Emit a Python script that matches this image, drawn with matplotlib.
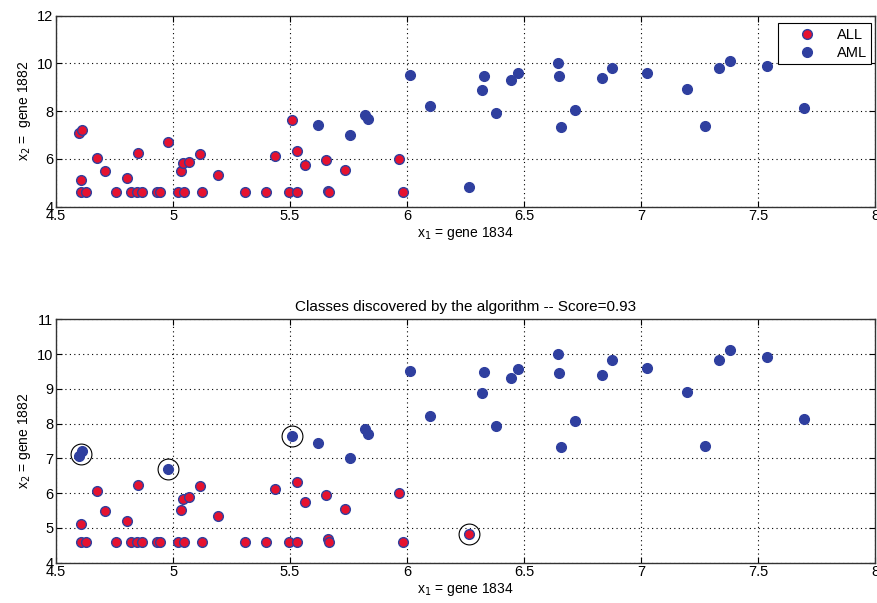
import matplotlib.pyplot as plt
import numpy as np

# gene expression (log scale)
gene1834 = [4.605, 4.626, 4.605, 4.598, 4.612, 4.677, 4.710, 4.757, 4.802, 4.821,
            4.852, 4.845, 4.866, 4.931, 4.945, 4.978, 5.019, 5.045, 5.035, 5.042,
            5.066, 5.116, 5.123, 5.190, 5.309, 5.398, 5.437, 5.497, 5.530, 5.508,
            5.530, 5.565, 5.655, 5.661, 5.665, 5.736, 5.967, 5.982,
            5.619, 5.758, 5.819, 5.833, 6.011, 6.097, 6.330, 6.321, 6.382, 6.445,
            6.472, 6.645, 6.649, 6.659, 6.716, 6.831, 6.875, 7.027, 7.195, 7.274,
            7.334, 7.378, 7.537, 7.697, 6.264]
gene1882 = [4.61, 4.61, 5.10, 7.08, 7.20, 6.06, 5.50, 4.61, 5.20, 4.61,
            6.23, 4.61, 4.61, 4.61, 4.61, 6.71, 4.61, 4.61, 5.51, 5.82,
            5.88, 6.21, 4.61, 5.34, 4.61, 4.61, 6.11, 4.61, 4.61, 7.65,
            6.33, 5.74, 5.95, 4.67, 4.60, 5.55, 6.01, 4.61,
            7.44, 7.00, 7.84, 7.69, 9.51, 8.22, 9.48, 8.88, 7.92, 9.30,
            9.58, 10.00, 9.46, 7.33, 8.07, 9.39, 9.82, 9.60, 8.91, 7.36,
            9.82, 10.12, 9.91, 8.13, 4.83]
true_class = ['ALL'] * 38 + ['AML'] * 25
found_class = list(true_class)
for i in [3, 4, 15, 29]:
    found_class[i] = 'AML'
found_class[62] = 'ALL'

xticks = [4.5, 5, 5.5, 6, 6.5, 7, 7.5, 8]
xticklabels = ['4.5', '5', '5.5', '6', '6.5', '7', '7.5', '8']
yticks_top = [4, 6, 8, 10, 12]
yticks_bot = [4, 5, 6, 7, 8, 9, 10, 11]

score = 0.93

plt.rcParams['font.family'] = ['Liberation Sans', 'DejaVu Sans']
plt.rcParams['font.size'] = 10.5

red = '#e5122f'
blue = '#2f3f9f'

x = np.array(gene1834)
y = np.array(gene1882)


def draw(ax, labels):
    lab = np.array(labels)
    m = lab == 'ALL'
    ax.plot(x[m], y[m], 'o', ms=7, mfc=red, mec=blue, mew=1.0, ls='none', label='ALL')
    m = lab == 'AML'
    ax.plot(x[m], y[m], 'o', ms=7, mfc=blue, mec=blue, mew=1.0, ls='none', label='AML')


def style(ax, yticks):
    ax.set_xlim(4.5, 8)
    ax.set_ylim(yticks[0], yticks[-1])
    ax.set_xticks(xticks)
    ax.set_xticklabels(xticklabels)
    ax.set_yticks(yticks)
    ax.set_yticklabels([str(v) for v in yticks])
    ax.grid(True, linestyle=(0, (1, 3)), color='k', linewidth=0.8)
    ax.tick_params(direction='in', top=True, right=True, length=4, pad=2)
    for s in ax.spines.values():
        s.set_color('#333333')
        s.set_linewidth(1.0)


fig = plt.figure(figsize=(8.77, 6.03), dpi=100)

ax1 = fig.add_axes([0.0639, 0.6572, 0.934, 0.3168])
draw(ax1, true_class)
style(ax1, yticks_top)
ax1.set_xlabel('x$_1$ = gene 1834', labelpad=1, fontsize=10)
ax1.set_ylabel('x$_2$ =  gene 1882', labelpad=3, fontsize=10)
leg = ax1.legend(loc='upper right', bbox_to_anchor=(0.995, 0.96), fancybox=False,
                 edgecolor='k', framealpha=1, borderaxespad=0, handlelength=3.4,
                 handletextpad=0.3, fontsize=10.5, borderpad=0.3, labelspacing=0.3)
leg.get_frame().set_linewidth(0.8)

ax2 = fig.add_axes([0.0639, 0.0668, 0.934, 0.4036])
draw(ax2, found_class)

# circle the samples whose discovered class differs (nearby ones share one circle)
wrong = np.where(np.array(true_class) != np.array(found_class))[0]
groups = []
for i in wrong:
    for g in groups:
        j = g[0]
        if abs(x[j] - x[i]) < 0.05 and abs(y[j] - y[i]) < 0.2:
            g.append(i)
            break
    else:
        groups.append([i])
cx = [x[g].mean() for g in groups]
cy = [y[g].mean() for g in groups]
ax2.plot(cx, cy, 'o', ms=15, mfc='none', mec='k', mew=0.8, ls='none')

style(ax2, yticks_bot)
ax2.set_xlabel('x$_1$ = gene 1834', labelpad=1, fontsize=10)
ax2.set_ylabel('x$_2$ = gene 1882', labelpad=3, fontsize=10)
ax2.set_title('Classes discovered by the algorithm -- Score=%.2f' % score, fontsize=11, pad=6)

fig.savefig('out.png', dpi=100)
